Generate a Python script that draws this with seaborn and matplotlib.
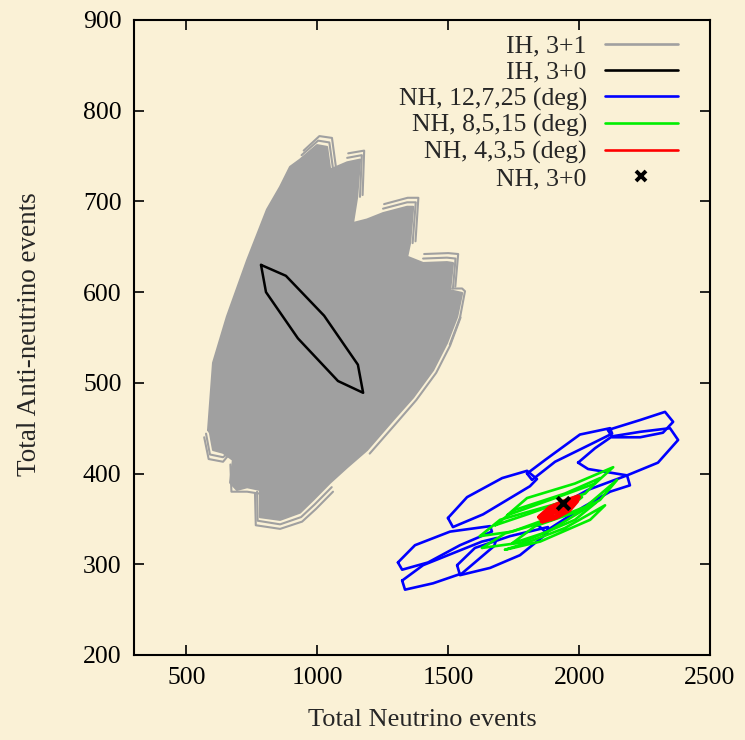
import matplotlib
matplotlib.use("Agg")
import matplotlib.pyplot as plt
from matplotlib.lines import Line2D
import pandas as pd
import seaborn as sns

# ---------------- data (event counts) ----------------
# IH, 3+0 allowed region
ih30_x = [785, 880, 1026, 1155, 1175, 1079, 926, 804]
ih30_y = [630, 618, 574, 520, 489, 502, 549, 600]

# IH, 3+1: outline of the union of all overlapping contours
ih31_env_x = [583, 602, 655, 732, 808, 858, 896, 934, 999, 1037, 1049, 1114, 1163,
              1152, 1136, 1190, 1251, 1343, 1366, 1354, 1343, 1404, 1495, 1518,
              1507, 1553, 1534, 1495, 1442, 1366, 1289, 1190, 1114, 1049, 984, 934,
              858, 781, 781, 732, 693, 667, 678, 640, 602, 590]
ih31_env_y = [448, 522, 573, 635, 691, 716, 738, 746, 762, 760, 735, 743, 746,
              705, 676, 680, 687, 694, 694, 654, 639, 632, 633, 632,
              602, 599, 573, 544, 514, 484, 459, 426, 407, 390, 371, 357,
              349, 352, 382, 385, 382, 390, 415, 423, 426, 445]

# IH, 3+1: outermost contour edges at the tips
ih31_edges = [
    ([940, 1003, 1046, 1060], [751, 767, 765, 736]),
    ([948, 1008, 1056, 1071], [756, 772, 770, 738]),
    ([1114, 1170, 1163], [748, 751, 705]),
    ([1118, 1179, 1173], [753, 756, 707]),
    ([1251, 1343, 1376, 1364], [692, 699, 699, 654]),
    ([1255, 1345, 1386, 1375], [697, 704, 704, 656]),
    ([1404, 1495, 1528, 1518], [637, 638, 637, 604]),
    ([1408, 1500, 1538, 1527], [642, 643, 642, 606]),
    ([1515, 1553, 1564, 1545, 1506], [604, 604, 601, 572, 542]),
    ([575, 590, 640, 667], [444, 421, 418, 424]),
    ([568, 585, 640, 660], [440, 416, 413, 420]),
    ([668, 672, 732, 776], [410, 380, 380, 378]),
    ([770, 772, 858, 938, 990, 1055], [380, 348, 344, 352, 366, 385]),
    ([762, 765, 858, 942, 995, 1060], [378, 343, 339, 347, 361, 380]),
    ([1547, 1507, 1454, 1378, 1300, 1200], [572, 541, 511, 481, 455, 422]),
]

# NH, 12,7,25 (deg) contours
nh_12_7_25 = [
    ([1308, 1373, 1507, 1660, 1667, 1545, 1423, 1324], [302, 321, 336, 342, 336, 321, 302, 294]),
    ([1324, 1404, 1629, 1686, 1675, 1553, 1442, 1335], [282, 299, 325, 329, 320, 290, 279, 272]),
    ([1534, 1602, 1736, 1881, 1877, 1774, 1660, 1545], [299, 318, 331, 341, 334, 310, 296, 288]),
    ([1499, 1572, 1706, 1801, 1839, 1812, 1633, 1518], [351, 374, 395, 403, 394, 386, 355, 341]),
    ([1801, 1870, 2003, 2118, 2126, 2042, 1908, 1820], [400, 415, 443, 450, 444, 432, 413, 393]),
    ([2110, 2233, 2328, 2359, 2320, 2233, 2126], [448, 459, 468, 457, 445, 440, 440]),
    ([1996, 2061, 2126, 2233, 2347, 2378, 2301, 2183, 2034], [412, 428, 441, 446, 450, 437, 412, 398, 405]),
    ([1843, 1908, 2034, 2183, 2194, 2118, 2015, 1870], [343, 362, 382, 398, 387, 380, 363, 336]),
]

# NH, 8,5,15 (deg) contours
nh_8_5_15 = [
    ([1621, 1698, 1881, 2011, 1935, 1744], [331, 349, 364, 374, 356, 336]),
    ([1629, 1717, 1896, 2065, 1984, 1782], [318, 334, 349, 368, 349, 324]),
    ([1725, 1801, 1984, 2130, 2061, 1870], [354, 373, 389, 407, 389, 369]),
    ([1744, 1832, 2011, 2145, 2080, 1881], [323, 342, 360, 393, 371, 336]),
    ([1679, 1755, 1946, 2080, 2023, 1812], [343, 360, 378, 395, 378, 356]),
    ([1717, 1793, 1946, 2099, 2042, 1851], [316, 323, 340, 365, 349, 325]),
]

# NH, 4,3,5 (deg) contours
nh_4_3_5 = [
    ([1851, 1889, 1946, 1996, 1973, 1908], [352, 362, 369, 374, 365, 358]),
    ([1860, 1900, 1950, 1990, 1960, 1910], [348, 358, 366, 370, 360, 352]),
]

# NH, 3+0 best fit point
nh30_x = [1940]
nh30_y = [367]

x_ticks = [500, 1000, 1500, 2000, 2500]
y_ticks = [200, 300, 400, 500, 600, 700, 800, 900]

# ---------------- styling ----------------
paper = "#faf1d6"
c_gray = "#a0a0a0"
c_blue = "#0000ff"
c_green = "#00ee00"
c_red = "#ff0000"

sns.set_theme(style="ticks")
plt.rcParams["font.family"] = ["Liberation Serif", "DejaVu Serif"]


def contour_frame(contours, closed=True):
    rows = []
    for cid, (xs, ys) in enumerate(contours):
        pts = list(zip(xs, ys))
        if closed:
            pts = pts + [pts[0]]
        for k, (x, y) in enumerate(pts):
            rows.append({"x": x, "y": y, "cid": cid, "k": k})
    return pd.DataFrame(rows)


fig = plt.figure(figsize=(7.45, 7.40), dpi=100, facecolor=paper)
ax = fig.add_axes([0.1799, 0.1149, 0.7732, 0.8581])
ax.set_facecolor(paper)

# IH, 3+1 band
ax.fill(ih31_env_x, ih31_env_y, color=c_gray, lw=0, zorder=2)
sns.lineplot(data=contour_frame([(ih31_env_x, ih31_env_y)]), x="x", y="y",
             units="cid", estimator=None, sort=False, color=c_gray,
             linewidth=1.6, ax=ax, legend=False, zorder=2)
sns.lineplot(data=contour_frame(ih31_edges, closed=False), x="x", y="y",
             units="cid", estimator=None, sort=False, color=c_gray,
             linewidth=1.5, ax=ax, legend=False, zorder=2)

# IH, 3+0
sns.lineplot(data=contour_frame([(ih30_x, ih30_y)]), x="x", y="y",
             units="cid", estimator=None, sort=False, color="black",
             linewidth=1.8, ax=ax, legend=False, zorder=3)

# NH contours
for contours, col, lw in [(nh_12_7_25, c_blue, 1.9),
                          (nh_8_5_15, c_green, 1.9),
                          (nh_4_3_5, c_red, 4.0)]:
    sns.lineplot(data=contour_frame(contours), x="x", y="y",
                 units="cid", estimator=None, sort=False, color=col,
                 linewidth=lw, ax=ax, legend=False, zorder=4)

sns.scatterplot(x=nh30_x, y=nh30_y, marker="x", color="black", s=80,
                linewidth=3, ax=ax, legend=False, zorder=5)

# ---------------- axes ----------------
ax.set_xlim(300, 2500)
ax.set_ylim(200, 900)
ax.set_xticks(x_ticks)
ax.set_yticks(y_ticks)
ax.tick_params(direction="in", length=7, width=1.2, top=True, right=True,
               labelsize=18.5, pad=9, colors="black")
for sp in ax.spines.values():
    sp.set_linewidth(1.5)
    sp.set_color("black")

ax.set_xlabel("Total Neutrino events", fontsize=19)
ax.set_ylabel("Total Anti-neutrino events", fontsize=19.5)
ax.xaxis.set_label_coords(0.5, -0.103)
ax.xaxis.label.set_verticalalignment("center")
ax.yaxis.set_label_coords(-0.1806, 0.506)
ax.yaxis.label.set_verticalalignment("center")
ax.yaxis.label.set_horizontalalignment("center")

handles = [
    Line2D([], [], color=c_gray, lw=1.9, label="IH, 3+1"),
    Line2D([], [], color="black", lw=1.9, label="IH, 3+0"),
    Line2D([], [], color=c_blue, lw=1.9, label="NH, 12,7,25 (deg)"),
    Line2D([], [], color=c_green, lw=1.9, label="NH, 8,5,15 (deg)"),
    Line2D([], [], color=c_red, lw=1.9, label="NH, 4,3,5 (deg)"),
    Line2D([], [], ls="none", marker="x", color="black", mew=2.8, ms=7.5,
           label="NH, 3+0"),
]
ax.legend(handles=handles, loc="upper right", bbox_to_anchor=(0.944, 0.977),
          frameon=False, markerfirst=False, fontsize=18.5, handlelength=2.84,
          handletextpad=0.7, labelspacing=0.13, borderaxespad=0, borderpad=0)

fig.savefig("out.png", dpi=100, facecolor=paper)
